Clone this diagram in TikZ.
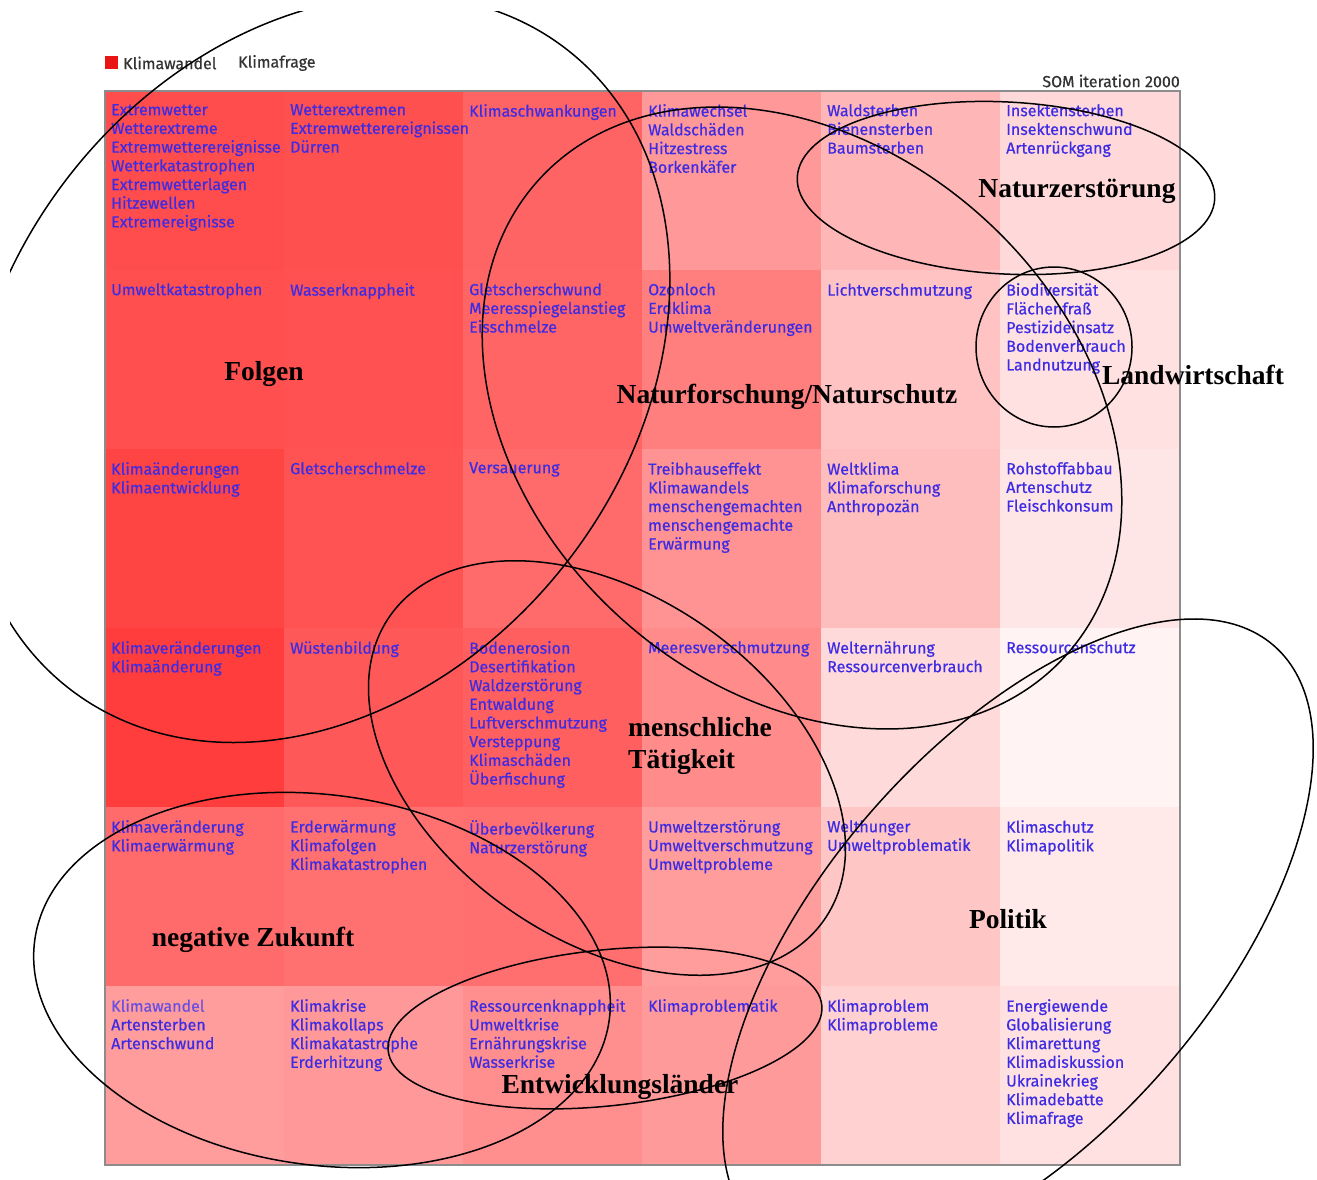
\documentclass[tikz,border=0pt]{standalone}
\usepackage{fontspec}
\setmainfont{Liberation Serif}
\newfontfamily\fira[FakeBold=0.6]{Fira Sans}
\definecolor{wordblue}{RGB}{62,44,228}
\definecolor{wordlite}{RGB}{105,80,225}
\definecolor{legred}{RGB}{235,20,20}
\definecolor{r00}{HTML}{FF4D4D}\definecolor{r01}{HTML}{FF5050}\definecolor{r02}{HTML}{FF6464}\definecolor{r03}{HTML}{FF9898}\definecolor{r04}{HTML}{FFB6B6}\definecolor{r05}{HTML}{FFD9D9}
\definecolor{r10}{HTML}{FF4F4F}\definecolor{r11}{HTML}{FF5151}\definecolor{r12}{HTML}{FF6565}\definecolor{r13}{HTML}{FF7E7E}\definecolor{r14}{HTML}{FFC3C3}\definecolor{r15}{HTML}{FFE1E1}
\definecolor{r20}{HTML}{FF4444}\definecolor{r21}{HTML}{FF5353}\definecolor{r22}{HTML}{FF6A6A}\definecolor{r23}{HTML}{FF9393}\definecolor{r24}{HTML}{FFBEBE}\definecolor{r25}{HTML}{FFE6E6}
\definecolor{r30}{HTML}{FF3D3D}\definecolor{r31}{HTML}{FF5858}\definecolor{r32}{HTML}{FF5F5F}\definecolor{r33}{HTML}{FF8B8B}\definecolor{r34}{HTML}{FFDADA}\definecolor{r35}{HTML}{FFF3F3}
\definecolor{r40}{HTML}{FF6B6B}\definecolor{r41}{HTML}{FF7171}\definecolor{r42}{HTML}{FF6F6F}\definecolor{r43}{HTML}{FF9C9C}\definecolor{r44}{HTML}{FFC6C6}\definecolor{r45}{HTML}{FFE9E9}
\definecolor{r50}{HTML}{FF9C9C}\definecolor{r51}{HTML}{FF9898}\definecolor{r52}{HTML}{FF8E8E}\definecolor{r53}{HTML}{FF9A9A}\definecolor{r54}{HTML}{FFD1D1}\definecolor{r55}{HTML}{FFE1E1}
\tikzset{
  words/.style={anchor=north west, inner sep=0pt, align=left, text=wordblue,
    font=\fira\fontsize{16}{18.7}\selectfont},
  lab/.style={inner sep=0pt, text=black, font=\bfseries\fontsize{27.5}{32}\selectfont},
  clu/.style={draw=black, line width=1.5pt},
  legtext/.style={inner sep=0pt, text=black!80, font=\fira\fontsize{16}{18}\selectfont},
}
\begin{document}
\begin{tikzpicture}[x=1pt,y=-1pt]
\useasboundingbox[fill=white] (0,0) rectangle (1317,1180);
% cells
\foreach \r/\y in {0/91,1/270,2/449,3/628,4/807,5/986}{
  \foreach \c/\x in {0/105,1/284,2/463,3/642,4/821,5/1000}{
    \fill[r\r\c] (\x,\y) rectangle ++(179.2,179.2);
  }
}
\draw[black!45, line width=1.5pt] (105,91) rectangle (1180,1165);
% legend
\fill[legred] (105,56) rectangle (118,69);
\node[legtext, anchor=west] (lg1) at (123,63) {Klimawandel};
\node[legtext, anchor=west] (lg2) at (238,63) {Klimafrage};
\node[legtext, anchor=east] (som) at (1180,81) {SOM iteration 2000};
% words
\node[words] (c00) at (111,104) {Extremwetter\\Wetterextreme\\Extremwetterereignisse\\Wetterkatastrophen\\Extremwetterlagen\\Hitzewellen\\Extremereignisse};
\node[words] (c01) at (290,104) {Wetterextremen\\Extremwetterereignissen\\Dürren};
\node[words] (c02) at (469,104) {Klimaschwankungen};
\node[words] (c03) at (648,104) {Klimawechsel\\Waldschäden\\Hitzestress\\Borkenkäfer};
\node[words] (c04) at (827,104) {Waldsterben\\Bienensterben\\Baumsterben};
\node[words] (c05) at (1006,104) {Insektensterben\\Insektenschwund\\Artenrückgang};
\node[words] (c10) at (111,283) {Umweltkatastrophen};
\node[words] (c11) at (290,283) {Wasserknappheit};
\node[words] (c12) at (469,283) {Gletscherschwund\\Meeresspiegelanstieg\\Eisschmelze};
\node[words] (c13) at (648,283) {Ozonloch\\Erdklima\\Umweltveränderungen};
\node[words] (c14) at (827,283) {Lichtverschmutzung};
\node[words] (c15) at (1006,283) {Biodiversität\\Flächenfraß\\Pestizideinsatz\\Bodenverbrauch\\Landnutzung};
\node[words] (c20) at (111,462) {Klimaänderungen\\Klimaentwicklung};
\node[words] (c21) at (290,462) {Gletscherschmelze};
\node[words] (c22) at (469,462) {Versauerung};
\node[words] (c23) at (648,462) {Treibhauseffekt\\Klimawandels\\menschengemachten\\menschengemachte\\Erwärmung};
\node[words] (c24) at (827,462) {Weltklima\\Klimaforschung\\Anthropozän};
\node[words] (c25) at (1006,462) {Rohstoffabbau\\Artenschutz\\Fleischkonsum};
\node[words] (c30) at (111,641) {Klimaveränderungen\\Klimaänderung};
\node[words] (c31) at (290,641) {Wüstenbildung};
\node[words] (c32) at (469,641) {Bodenerosion\\Desertifikation\\Waldzerstörung\\Entwaldung\\Luftverschmutzung\\Versteppung\\Klimaschäden\\Überfischung};
\node[words] (c33) at (648,641) {Meeresverschmutzung};
\node[words] (c34) at (827,641) {Welternährung\\Ressourcenverbrauch};
\node[words] (c35) at (1006,641) {Ressourcenschutz};
\node[words] (c40) at (111,820) {Klimaveränderung\\Klimaerwärmung};
\node[words] (c41) at (290,820) {Erderwärmung\\Klimafolgen\\Klimakatastrophen};
\node[words] (c42) at (469,820) {Überbevölkerung\\Naturzerstörung};
\node[words] (c43) at (648,820) {Umweltzerstörung\\Umweltverschmutzung\\Umweltprobleme};
\node[words] (c44) at (827,820) {Welthunger\\Umweltproblematik};
\node[words] (c45) at (1006,820) {Klimaschutz\\Klimapolitik};
\node[words] (c50) at (111,999) {\textcolor{wordlite}{Klimawandel}\\Artensterben\\Artenschwund};
\node[words] (c51) at (290,999) {Klimakrise\\Klimakollaps\\Klimakatastrophe\\Erderhitzung};
\node[words] (c52) at (469,999) {Ressourcenknappheit\\Umweltkrise\\Ernährungskrise\\Wasserkrise};
\node[words] (c53) at (648,999) {Klimaproblematik};
\node[words] (c54) at (827,999) {Klimaproblem\\Klimaprobleme};
\node[words] (c55) at (1006,999) {Energiewende\\Globalisierung\\Klimarettung\\Klimadiskussion\\Ukrainekrieg\\Klimadebatte\\Klimafrage};
% clusters
\begin{scope}
\clip (10,12) rectangle (1317,1180);
\draw[clu, rotate around={52:(318,369)}] (318,369) ellipse [x radius=405pt, y radius=315pt];
\draw[clu, rotate around={-42:(802,418)}] (802,418) ellipse [x radius=355pt, y radius=270pt];
\draw[clu, rotate around={-3:(1006,188)}] (1006,188) ellipse [x radius=209pt, y radius=86pt];
\draw[clu] (1054,347) ellipse [x radius=78pt, y radius=80pt];
\draw[clu, rotate around={-35:(607,768)}] (607,768) ellipse [x radius=265pt, y radius=172pt];
\draw[clu, rotate around={-8:(322,980)}] (322,980) ellipse [x radius=290pt, y radius=185pt];
\draw[clu, rotate around={6:(605,1028)}] (605,1028) ellipse [x radius=218pt, y radius=78pt];
\draw[clu, rotate around={49:(1018,940)}] (1018,940) ellipse [x radius=390pt, y radius=195pt];
\end{scope}
% labels
\node[lab] (folgen) at (264,374) {Folgen};
\node[lab] (natf) at (787,397) {Naturforschung/Naturschutz};
\node[lab] (natz) at (1077,191) {Naturzerstörung};
\node[lab] (land) at (1193,375) {Landwirtschaft};
\node[lab, anchor=west, align=left] (mensch) at (628,746) {menschliche\\Tätigkeit};
\node[lab] (negz) at (253,940) {negative Zukunft};
\node[lab] (pol) at (1008,919) {Politik};
\node[lab] (entw) at (620,1087) {Entwicklungsländer};
\end{tikzpicture}
\end{document}
